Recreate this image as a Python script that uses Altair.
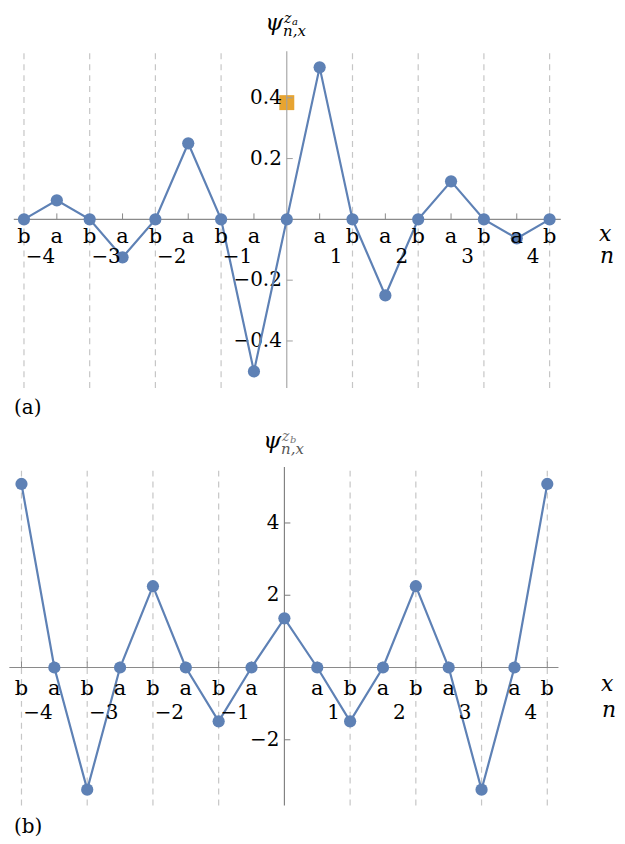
import altair as alt
import pandas as pd

# ---------------- data ----------------
k_sites = list(range(-8, 9))
site_labels = ["b", "a", "b", "a", "b", "a", "b", "a", "", "a", "b", "a", "b", "a", "b", "a", "b"]
psi_a = [0, 0.0625, 0, -0.125, 0, 0.25, 0, -0.5, 0, 0.5, 0, -0.25, 0, 0.125, 0, -0.0625, 0]
psi_b = [5.08, 0, -3.38, 0, 2.25, 0, -1.49, 0, 1.36, 0, -1.49, 0, 2.25, 0, -3.38, 0, 5.08]
grid_k = [-8, -6, -4, -2, 2, 4, 6, 8]
n_values = [-4, -3, -2, -1, 1, 2, 3, 4]
n_labels = ["−4", "−3", "−2", "−1", "1", "2", "3", "4"]
yticks_a = [-0.4, -0.2, 0.2, 0.4]
ytick_labels_a = ["−0.4", "−0.2", "0.2", "0.4"]
yticks_b = [-2, 2, 4]
ytick_labels_b = ["−2", "2", "4"]
marker_a_x = [0]
marker_a_y = [0.384]

BLUE = "#5E81B5"
ORANGE = "#E69F26"
FONT = "DejaVu Serif"
W, H = 609, 410


def panel(values, yt, ytl, xdom, ydom, xext, yext, letter_dy, n_dy, axis_col,
          psi_pos, sup_txt, sup_col, sub_col, xlab_pos, nlab_pos, tag, marker=None):
    xs = alt.Scale(domain=xdom, nice=False, zero=False)
    ys = alt.Scale(domain=ydom, nice=False, zero=False)
    X = lambda f: alt.X(f, scale=xs, axis=None)
    Y = lambda f: alt.Y(f, scale=ys, axis=None)

    layers = []
    gdf = pd.DataFrame({"k": grid_k, "lo": [yext[0]] * len(grid_k), "hi": [yext[1]] * len(grid_k)})
    layers.append(alt.Chart(gdf).mark_rule(color="#c6c6c6", strokeWidth=1.2, strokeDash=[6, 5])
                  .encode(x=X("k:Q"), y=Y("lo:Q"), y2="hi:Q"))
    if marker is not None:
        mdf = pd.DataFrame({"mx": marker[0], "my": marker[1]})
        layers.append(alt.Chart(mdf).mark_point(shape="square", filled=True, size=225,
                                                color=ORANGE, opacity=0.95)
                      .encode(x=X("mx:Q"), y=Y("my:Q")))
    hdf = pd.DataFrame({"x1": [xext[0]], "x2": [xext[1]], "y": [0]})
    layers.append(alt.Chart(hdf).mark_rule(color="#8a8a8a", strokeWidth=1.1)
                  .encode(x=X("x1:Q"), x2="x2:Q", y=Y("y:Q")))
    vdf = pd.DataFrame({"x": [0], "y1": [yext[0]], "y2": [yext[1]]})
    layers.append(alt.Chart(vdf).mark_rule(color=axis_col, strokeWidth=1.1)
                  .encode(x=X("x:Q"), y=Y("y1:Q"), y2="y2:Q"))
    tdf = pd.DataFrame({"k": k_sites, "z": [0] * len(k_sites), "lab": site_labels})
    layers.append(alt.Chart(tdf).mark_rule(color="#8a8a8a", strokeWidth=1, y2Offset=-6)
                  .encode(x=X("k:Q"), y=Y("z:Q"), y2="z:Q"))
    ydf = pd.DataFrame({"v": yt, "lab": ytl, "z": [0] * len(yt)})
    layers.append(alt.Chart(ydf).mark_rule(color=axis_col, strokeWidth=1, x2Offset=6)
                  .encode(x=X("z:Q"), x2="z:Q", y=Y("v:Q")))
    layers.append(alt.Chart(ydf).mark_text(align="right", baseline="middle", dx=-5, dy=0,
                                           font=FONT, fontSize=20, color="black")
                  .encode(x=X("z:Q"), y=Y("v:Q"), text="lab:N"))
    df = pd.DataFrame({"k": k_sites, "psi": values})
    layers.append(alt.Chart(df).mark_line(color=BLUE, strokeWidth=2.2)
                  .encode(x=X("k:Q"), y=Y("psi:Q")))
    layers.append(alt.Chart(df).mark_circle(color=BLUE, size=150, opacity=1)
                  .encode(x=X("k:Q"), y=Y("psi:Q")))
    layers.append(alt.Chart(tdf).mark_text(align="center", baseline="alphabetic", dy=letter_dy,
                                           font=FONT, fontSize=21, color="black")
                  .encode(x=X("k:Q"), y=Y("z:Q"), text="lab:N"))
    npos = [2 * n + 0.5 if n < 0 else 2 * n - 0.5 for n in n_values]
    ndf = pd.DataFrame({"p": npos, "lab": n_labels, "z": [0] * len(n_values)})
    layers.append(alt.Chart(ndf).mark_text(align="center", baseline="alphabetic", dy=n_dy,
                                           font=FONT, fontSize=20, color="black")
                  .encode(x=X("p:Q"), y=Y("z:Q"), text="lab:N"))

    def txt(t, x, y, size, style="normal", color="black", align="left"):
        return (alt.Chart(pd.DataFrame({"t": [t]}))
                .mark_text(align=align, baseline="alphabetic", font=FONT, fontSize=size,
                           fontStyle=style, color=color)
                .encode(x=alt.value(x), y=alt.value(y), text="t:N"))

    px, py = psi_pos
    layers.append(txt("ψ", px, py, 23, "italic"))
    layers.append(txt("z", px + 19, py - 7, 14, "italic", sup_col))
    layers.append(txt(sup_txt, px + 27, py - 5, 10, "italic", sup_col))
    layers.append(txt("n,x", px + 18, py + 6, 15, "italic", sub_col))
    layers.append(txt("x", xlab_pos[0], xlab_pos[1], 22, "italic"))
    layers.append(txt("n", nlab_pos[0], nlab_pos[1], 22, "italic"))
    layers.append(txt(tag, 5, 406, 20))

    return alt.layer(*layers).properties(width=W, height=H)


pa = panel(psi_a, yticks_a, ytick_labels_a,
           xdom=[-8.456, 10.021], ydom=[-0.6534, 0.6908],
           xext=[-8.31, 8.34], yext=[-0.555, 0.553],
           letter_dy=24, n_dy=44, axis_col="#a0a0a0",
           psi_pos=(257, 21), sup_txt="a", sup_col="black", sub_col="black",
           xlab_pos=(592, 232), nlab_pos=(593, 254), tag="(a)",
           marker=(marker_a_x, marker_a_y))

pb = panel(psi_b, yticks_b, ytick_labels_b,
           xdom=[-8.380, 10.091], ydom=[-4.681, 6.629],
           xext=[-8.37, 8.34], yext=[-3.82, 5.55],
           letter_dy=28, n_dy=52, axis_col="#7a7a7a",
           psi_pos=(255, 20), sup_txt="b", sup_col="#777777", sub_col="#555555",
           xlab_pos=(594, 264), nlab_pos=(595, 290), tag="(b)")

chart = (alt.vconcat(pa, pb, spacing=10)
         .resolve_scale(x="independent", y="independent")
         .properties(padding=0)
         .configure_view(stroke=None))

chart.save("out.html", embed_options={"renderer": "svg", "actions": False})
